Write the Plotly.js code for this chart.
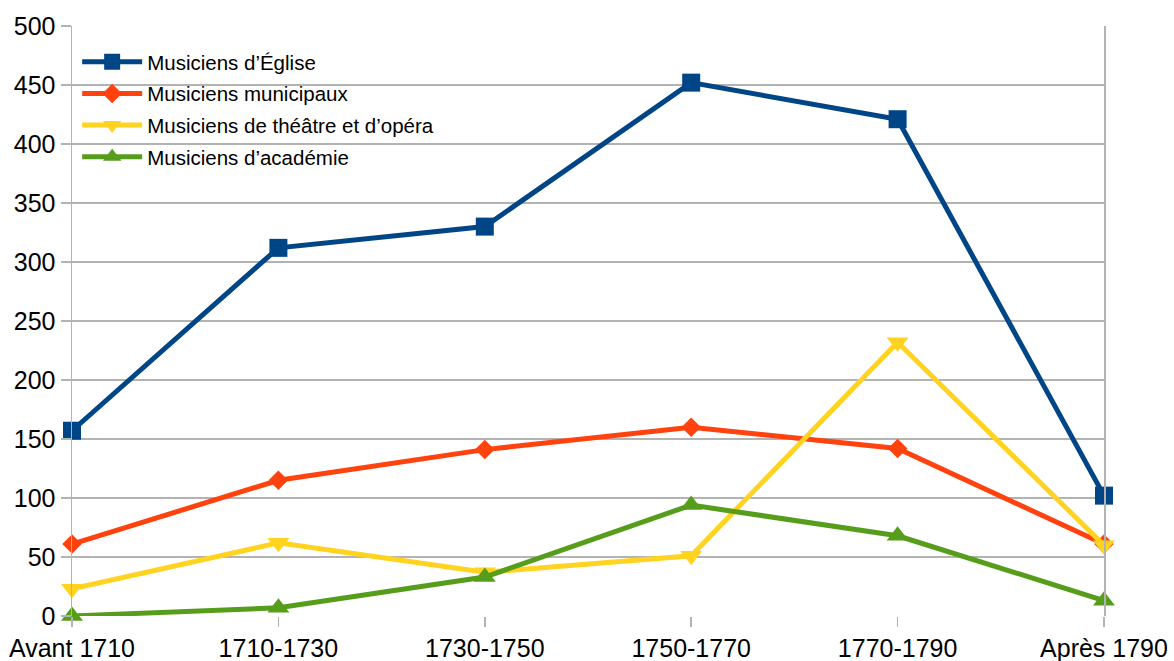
<!DOCTYPE html>
<html><head><meta charset="utf-8">
<script src="https://cdn.plot.ly/plotly-3.0.1.min.js"></script>
<style>html,body{margin:0;padding:0;background:#fff}#chart{width:1174px;height:661px}</style>
</head><body><div id="chart"></div>
<script>
const categories = ["Avant 1710", "1710-1730", "1730-1750", "1750-1770", "1770-1790", "Après 1790"];
const seriesNames = ["Musiciens d’Église", "Musiciens municipaux", "Musiciens de théâtre et d’opéra", "Musiciens d’académie"];
const eglise = [157, 312, 330, 452, 421, 102];
const municipaux = [61, 115, 141, 160, 142, 61];
const theatre = [23, 62, 37, 51, 232, 60];
const academie = [0, 7, 33, 94, 68, 13];
const yTicks = [0, 50, 100, 150, 200, 250, 300, 350, 400, 450, 500];

const colors = ["#004586", "#ff420e", "#ffd320", "#579d1c"];
const symbols = ["square", "diamond", "triangle-down", "triangle-up"];
const sizes = [18, 15, 19, 19];
const data = [eglise, municipaux, theatre, academie];

const traces = data.map((vals, i) => ({
  x: categories, y: vals, type: "scatter", mode: "lines+markers",
  name: seriesNames[i], legendgroup: "g" + i, cliponaxis: false,
  line: {color: colors[i], width: 5},
  marker: {symbol: symbols[i], size: sizes[i], color: colors[i]}
}));

const layout = {
  width: 1174, height: 661,
  margin: {l: 72, r: 70, t: 26, b: 45},
  paper_bgcolor: "#fff", plot_bgcolor: "#fff",
  font: {family: "Liberation Sans, Arial, sans-serif", size: 25, color: "#000"},
  showlegend: true,
  legend: {x: 0.005, y: 0.973, xanchor: "left", yanchor: "top", bgcolor: "rgba(0,0,0,0)",
           font: {size: 20.5, color: "#000"}, traceorder: "grouped", tracegroupgap: 2, itemwidth: 60},
  xaxis: {type: "category", range: [0, 5], showgrid: false, zeroline: false,
          showline: false, ticks: "outside", ticklen: 10, tickcolor: "#b3b3b3", tickwidth: 1.5,
          tickfont: {size: 25}, fixedrange: true},
  yaxis: {range: [0, 500], tickvals: yTicks, showgrid: true, gridcolor: "#b3b3b3", gridwidth: 1.5,
          zeroline: false, showline: true, mirror: true, linecolor: "#b3b3b3", linewidth: 1.5,
          ticks: "outside", ticklen: 10, tickcolor: "#b3b3b3", tickwidth: 1.5,
          tickfont: {size: 25}, fixedrange: true}
};
Plotly.newPlot("chart", traces, layout, {staticPlot: true});
</script></body></html>
